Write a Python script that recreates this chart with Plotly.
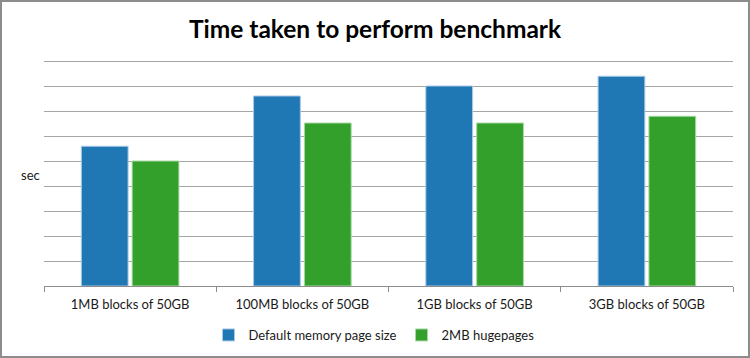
import plotly.graph_objects as go

categories = ["1MB blocks of 50GB", "100MB blocks of 50GB", "1GB blocks of 50GB", "3GB blocks of 50GB"]
default_vals = [5.59, 7.6, 8.0, 8.39]
huge_vals = [5.0, 6.52, 6.52, 6.79]
series_names = ["Default memory page size", "2MB hugepages"]

FONT = "Lato"
W, H = 750, 358
L, R, T, B = 44, 17, 57, 72
pw = W - L - R
ph = H - T - B
YMAX = ph / 25.0  # 25 px per unit, so that value 9 sits just below the top edge

fig = go.Figure()
fig.add_trace(go.Bar(x=categories, y=default_vals, name=series_names[0],
                     marker=dict(color="#1f77b4", line=dict(color="#a9c9e6", width=1))))
fig.add_trace(go.Bar(x=categories, y=huge_vals, name=series_names[1],
                     marker=dict(color="#33a02c", line=dict(color="#a8d8a4", width=1))))

fig.update_layout(
    width=W, height=H,
    margin=dict(l=L, r=R, t=T, b=B, pad=0, autoexpand=False),
    paper_bgcolor="white", plot_bgcolor="white",
    barmode="group", bargap=0.41, bargroupgap=0.08,
    title=dict(text="<b>Time taken to perform benchmark</b>", x=0.5, xanchor="center",
               xref="container", y=1 - 29 / H, yanchor="middle",
               font=dict(family=FONT, size=24.5, color="black")),
    font=dict(family=FONT, size=13, color="#1a1a1a"),
    showlegend=True,
    legend=dict(orientation="h", xref="container", yref="container",
                x=374 / W, xanchor="center",
                y=1 - 335 / H, yanchor="middle",
                font=dict(family=FONT, size=13, color="#1a1a1a"), itemwidth=30,
                traceorder="normal"),
    xaxis=dict(showline=True, linecolor="#8c8c8c", linewidth=1,
               ticks="outside", tickson="boundaries", ticklen=5, tickcolor="#8c8c8c",
               ticklabelstandoff=6,
               tickfont=dict(family=FONT, size=13, color="#1a1a1a"), showgrid=False),
    yaxis=dict(range=[0, YMAX], tickvals=list(range(1, 10)), showticklabels=False, showgrid=True,
               gridcolor="#a6a6a6", gridwidth=1, zeroline=False, showline=False),
)

fig.add_annotation(text="sec", xref="paper", yref="paper",
                   x=-(L - 30) / pw, y=(T + ph - 175) / ph, showarrow=False,
                   xanchor="center", yanchor="middle",
                   font=dict(family=FONT, size=13, color="#1a1a1a"))

fig.add_shape(type="rect", xref="paper", yref="paper",
              x0=-(L - 1) / pw, x1=(W - L - 1) / pw,
              y0=-(B - 1) / ph, y1=(ph + T - 1) / ph,
              line=dict(color="#8c8c8c", width=2), layer="above")

fig.write_html("out.html", config={"displayModeBar": False},
               post_script="document.body.style.margin='0';")
